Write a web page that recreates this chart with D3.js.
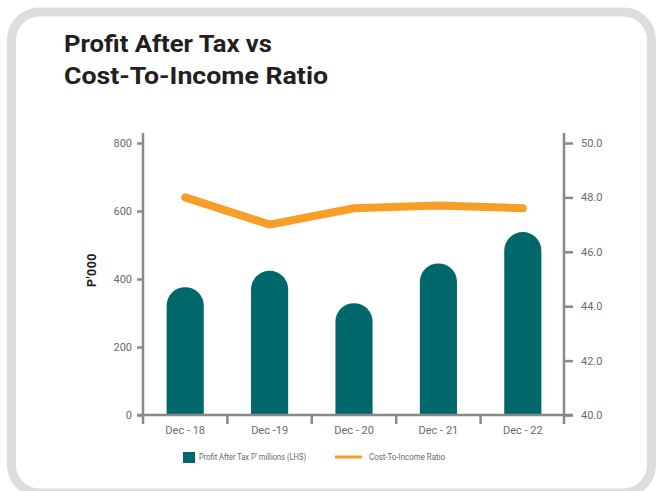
<!DOCTYPE html>
<html>
<head>
<meta charset="utf-8">
<script src="https://cdn.jsdelivr.net/npm/d3@7"></script>
<style>
  html, body { margin: 0; padding: 0; background: #ffffff; }
  svg { display: block; }
</style>
</head>
<body>
<svg id="chart" width="657" height="491"></svg>
<script>
const categories = ["Dec - 18", "Dec -19", "Dec - 20", "Dec - 21", "Dec - 22"];
const profitValues = [376, 424, 329, 446, 538];
const ratioValues = [48.0, 47.0, 47.6, 47.7, 47.6];
const leftTicks = [0, 200, 400, 600, 800];
const rightTicks = [40, 42, 44, 46, 48, 50];
const titleLines = ["Profit After Tax vs", "Cost-To-Income Ratio"];
const legendLabels = ["Profit After Tax P' millions (LHS)", "Cost-To-Income Ratio"];
const yAxisTitle = "P'000";

const teal = "#00676b";
const orange = "#f79e27";
const axisGrey = "#88898b";
const textGrey = "#6a6b6d";

const svg = d3.select("#chart");

// card
svg.append("rect")
  .attr("x", 11.5).attr("y", 12).attr("width", 640).attr("height", 481)
  .attr("rx", 28).attr("ry", 28)
  .attr("fill", "#fff").attr("stroke", "#dcdddf").attr("stroke-width", 9);

// title
const tl = [208, 264];
svg.selectAll("text.title").data(titleLines).join("text")
  .attr("class", "title")
  .attr("x", 64).attr("y", (d, i) => 52 + i * 32)
  .attr("textLength", (d, i) => tl[i]).attr("lengthAdjust", "spacingAndGlyphs")
  .attr("font-family", "Roboto, 'DejaVu Sans', sans-serif")
  .attr("font-weight", 700).attr("font-size", 24)
  .attr("fill", "#231f20")
  .text(d => d);

const x0 = 143, x1 = 565, yTop = 143, yBot = 415;
const x = d3.scaleBand().domain(categories).range([x0, x1]).padding(0);
const yL = d3.scaleLinear().domain([0, 800]).range([yBot, yTop]);
const yR = d3.scaleLinear().domain([40, 50]).range([yBot, yTop]);

const barW = x.bandwidth() * 0.44;

// bars with rounded tops
svg.append("g").selectAll("path").data(profitValues).join("path")
  .attr("fill", teal)
  .attr("d", (v, i) => {
    const cx = x(categories[i]) + x.bandwidth() / 2;
    const l = cx - barW / 2, r = cx + barW / 2, rad = barW / 2;
    const top = yL(v), bot = yL(0);
    return `M${l},${bot} L${l},${top + rad} A${rad},${rad} 0 0 1 ${r},${top + rad} L${r},${bot} Z`;
  });

// axes
const gA = svg.append("g").attr("stroke", axisGrey).attr("stroke-width", 2.5);
gA.append("line").attr("x1", x0).attr("x2", x0).attr("y1", 133).attr("y2", 424);
gA.append("line").attr("x1", x1 - 1).attr("x2", x1 - 1).attr("y1", 133).attr("y2", 424);
gA.append("line").attr("x1", 137).attr("x2", 573).attr("y1", yBot).attr("y2", yBot);

const leftAxis = svg.append("g").attr("transform", `translate(${x0},0)`)
  .call(d3.axisLeft(yL).tickValues(leftTicks).tickSize(6).tickPadding(5));
leftAxis.select(".domain").remove();
leftAxis.selectAll(".tick line").attr("stroke", axisGrey).attr("stroke-width", 2.5);
leftAxis.selectAll(".tick text").attr("fill", textGrey)
  .attr("font-family", "Roboto, sans-serif").attr("font-size", 11);

const rightAxis = svg.append("g").attr("transform", `translate(${x1 - 1},0)`)
  .call(d3.axisRight(yR).tickValues(rightTicks).tickSize(9).tickPadding(8).tickFormat(d3.format(".1f")));
rightAxis.select(".domain").remove();
rightAxis.selectAll(".tick line").attr("stroke", axisGrey).attr("stroke-width", 2.5);
rightAxis.selectAll(".tick text").attr("fill", textGrey)
  .attr("font-family", "Roboto, sans-serif").attr("font-size", 11);

// bottom category ticks (at band boundaries) and labels
const bottomAxis = svg.append("g").attr("transform", `translate(0,${yBot})`)
  .call(d3.axisBottom(x).tickSize(0).tickPadding(11));
bottomAxis.select(".domain").remove();
bottomAxis.selectAll(".tick text").attr("fill", textGrey)
  .attr("font-family", "Roboto, sans-serif").attr("font-size", 11);
svg.append("g").selectAll("line").data(categories.slice(1)).join("line")
  .attr("x1", d => x(d)).attr("x2", d => x(d))
  .attr("y1", yBot).attr("y2", 424)
  .attr("stroke", axisGrey).attr("stroke-width", 2.5);

// line series
const line = d3.line()
  .x((v, i) => x(categories[i]) + x.bandwidth() / 2)
  .y(v => yR(v));
svg.append("path").datum(ratioValues)
  .attr("d", line)
  .attr("fill", "none").attr("stroke", orange).attr("stroke-width", 8)
  .attr("stroke-linecap", "round").attr("stroke-linejoin", "round");

// y axis title
svg.append("text")
  .attr("transform", "translate(96,270) rotate(-90)")
  .attr("text-anchor", "middle")
  .attr("font-family", "Roboto, sans-serif").attr("font-weight", 700)
  .attr("font-size", 12.5).attr("letter-spacing", 0.5).attr("fill", "#231f20")
  .text(yAxisTitle);

// legend
svg.append("rect").attr("x", 183).attr("y", 452).attr("width", 12).attr("height", 11).attr("fill", teal);
svg.append("text").attr("x", 199).attr("y", 459.5)
  .attr("font-family", "Roboto, sans-serif").attr("font-size", 8.5).attr("fill", textGrey)
  .attr("textLength", 107).attr("lengthAdjust", "spacingAndGlyphs")
  .text(legendLabels[0]);
svg.append("line").attr("x1", 335).attr("x2", 362).attr("y1", 457).attr("y2", 457)
  .attr("stroke", orange).attr("stroke-width", 3);
svg.append("text").attr("x", 369).attr("y", 459.5)
  .attr("font-family", "Roboto, sans-serif").attr("font-size", 8.5).attr("fill", textGrey)
  .attr("textLength", 76).attr("lengthAdjust", "spacingAndGlyphs")
  .text(legendLabels[1]);
</script>
</body>
</html>
